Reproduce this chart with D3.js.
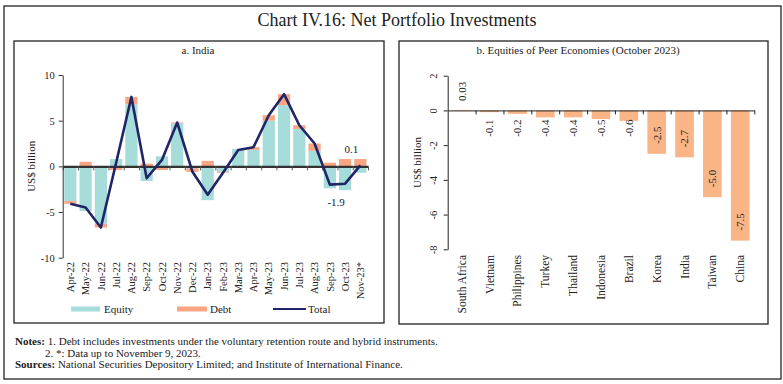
<!DOCTYPE html>
<html>
<head>
<meta charset="utf-8">
<script src="https://cdn.jsdelivr.net/npm/d3@7"></script>
<style>
  body { margin: 0; background: #fff; }
  text { font-family: "Liberation Serif", "DejaVu Serif", serif; fill: #222; }
</style>
</head>
<body>
<script>
//net portfolio investments chart


//data for panel a (US$ billion)
var months = ["Apr-22", "May-22", "Jun-22", "Jul-22", "Aug-22", "Sep-22", "Oct-22", "Nov-22", "Dec-22", "Jan-23",
    "Feb-23", "Mar-23", "Apr-23", "May-23", "Jun-23", "Jul-23", "Aug-23", "Sep-23", "Oct-23", "Nov-23*"];
var equity = [-3.8, -4.9, -6.3, 0.8, 6.8, -1.6, 1.1, 4.7, -0.2, -3.7, -0.6, 1.9, 1.8, 5.0, 6.7, 4.1, 1.7, -2.4, -2.6, -0.7];
var debt = [-0.3, 0.5, -0.4, -0.4, 0.8, 0.3, -0.4, 0.1, -0.4, 0.6, -0.1, -0.1, 0.3, 0.6, 1.2, 0.4, 0.8, 0.4, 0.8, 0.8];
var total = [-4.1, -4.5, -6.7, 0.4, 7.6, -1.3, 0.7, 4.8, -0.6, -3.1, -0.7, 1.8, 2.1, 5.6, 7.9, 4.5, 2.5, -2.0, -1.9, 0.1];
var leftTicks = [-10, -5, 0, 5, 10];

//data for panel b (US$ billion)
var countries = ["South Africa", "Vietnam", "Philippines", "Turkey", "Thailand", "Indonesia", "Brazil", "Korea", "India", "Taiwan", "China"];
var peerEquity = [0.03, -0.1, -0.2, -0.4, -0.4, -0.5, -0.6, -2.5, -2.7, -5.0, -7.5];
var peerLabels = ["0.03", "-0.1", "-0.2", "-0.4", "-0.4", "-0.5", "-0.6", "-2.5", "-2.7", "-5.0", "-7.5"];
var rightTicks = [-8, -6, -4, -2, 0, 2];

var equityColor = "#a6dcd9",
    debtColor = "#f7a583",
    totalColor = "#1f2566",
    peerColor = "#f9b585";

var svg = d3.select("body").append("svg")
    .attr("width", 783)
    .attr("height", 384);

//frames
svg.append("rect").attr("x", 4).attr("y", 6).attr("width", 777).attr("height", 373)
    .attr("fill", "none").attr("stroke", "#222").attr("stroke-width", 1.3);
svg.append("rect").attr("x", 14).attr("y", 41).attr("width", 370).attr("height", 282)
    .attr("fill", "none").attr("stroke", "#222").attr("stroke-width", 1.3);
svg.append("rect").attr("x", 399).attr("y", 41).attr("width", 369).attr("height", 283)
    .attr("fill", "none").attr("stroke", "#222").attr("stroke-width", 1.3);

svg.append("text").attr("x", 397).attr("y", 26).attr("text-anchor", "middle")
    .style("font-size", "18px").text("Chart IV.16: Net Portfolio Investments");
svg.append("text").attr("x", 198).attr("y", 54).attr("text-anchor", "middle")
    .style("font-size", "11px").text("a. India");
svg.append("text").attr("x", 578).attr("y", 54).attr("text-anchor", "middle")
    .style("font-size", "11px").text("b. Equities of Peer Economies (October 2023)");

drawIndia();
drawPeers();
drawNotes();

//plain hyphen minus like the original
function plain(d){ return String(d); }

function drawIndia(){
    var x0 = 62.7, x1 = 368;
    var x = d3.scaleBand().domain(months).range([x0, x1]).paddingInner(0.2).paddingOuter(0.1);
    var y = d3.scaleLinear().domain([-10, 10]).range([257.7, 75]);
    var g = svg.append("g");

    //stack equity and debt, positives up and negatives down
    var rows = months.map(function(m, i){ return {month: m, equity: equity[i], debt: debt[i]}; });
    var series = d3.stack().keys(["equity", "debt"]).offset(d3.stackOffsetDiverging)(rows);
    var colors = {equity: equityColor, debt: debtColor};

    series.forEach(function(s){
        g.append("g").selectAll("rect")
            .data(s)
            .enter()
            .append("rect")
            .attr("x", function(d){ return x(d.data.month); })
            .attr("width", x.bandwidth())
            .attr("y", function(d){ return y(Math.max(d[0], d[1])); })
            .attr("height", function(d){ return Math.abs(y(d[0]) - y(d[1])); })
            .attr("fill", colors[s.key]);
    });

    //zero line with ticks between categories
    var idx = d3.scaleLinear().domain([0, months.length]).range([x0, x1]);
    g.append("g")
        .attr("transform", "translate(0," + y(0) + ")")
        .call(d3.axisBottom(idx).tickValues(d3.range(months.length + 1)).tickFormat("").tickSize(4).tickSizeOuter(0))
        .call(function(a){
            a.select(".domain").attr("stroke", "#333").attr("stroke-width", 2.2);
            a.selectAll(".tick line").attr("stroke", "#555");
        });

    //total line
    var line = d3.line()
        .x(function(d, i){ return x(months[i]) + x.bandwidth() / 2; })
        .y(function(d){ return y(d); });
    g.append("path").datum(total)
        .attr("d", line)
        .attr("fill", "none")
        .attr("stroke", totalColor)
        .attr("stroke-width", 2.6)
        .attr("stroke-linejoin", "round");

    //y axis
    g.append("g")
        .attr("transform", "translate(" + x0 + ",0)")
        .call(d3.axisLeft(y).tickValues(leftTicks).tickSize(4).tickSizeOuter(0).tickPadding(4).tickFormat(plain))
        .call(function(a){
            a.select(".domain").attr("stroke", "#333");
            a.selectAll(".tick line").attr("stroke", "#333");
            a.selectAll("text").style("font-size", "10.5px").style("font-family", "Liberation Serif, serif").attr("fill", "#222");
        });

    g.append("text")
        .attr("transform", "translate(35," + y(0) + ") rotate(-90)")
        .attr("text-anchor", "middle")
        .style("font-size", "11px")
        .text("US$ billion");

    //month labels
    g.append("g").selectAll("text")
        .data(months)
        .enter()
        .append("text")
        .attr("transform", function(d){ return "translate(" + (x(d) + x.bandwidth() / 2) + ",262) rotate(-90)"; })
        .attr("text-anchor", "end")
        .attr("dy", "0.35em")
        .style("font-size", "10.5px")
        .text(function(d){ return d; });

    //data labels for the last two totals
    var n = months.length;
    g.append("text")
        .attr("x", x(months[n - 2]) + x.bandwidth() / 2 - 9)
        .attr("y", y(total[n - 2]) + 22)
        .attr("text-anchor", "middle")
        .style("font-size", "11px")
        .text(total[n - 2].toFixed(1));
    g.append("text")
        .attr("x", x(months[n - 1]) + x.bandwidth() / 2 - 9)
        .attr("y", y(total[n - 1]) - 12)
        .attr("text-anchor", "middle")
        .style("font-size", "11px")
        .text(total[n - 1].toFixed(1));

    //legend
    var lg = g.append("g");
    lg.append("rect").attr("x", 71).attr("y", 306.5).attr("width", 29).attr("height", 5).attr("fill", equityColor);
    lg.append("text").attr("x", 104).attr("y", 312.5).style("font-size", "11px").text("Equity");
    lg.append("rect").attr("x", 177).attr("y", 306.5).attr("width", 30).attr("height", 5).attr("fill", debtColor);
    lg.append("text").attr("x", 210).attr("y", 312.5).style("font-size", "11px").text("Debt");
    lg.append("line").attr("x1", 273).attr("x2", 306).attr("y1", 309).attr("y2", 309)
        .attr("stroke", totalColor).attr("stroke-width", 2);
    lg.append("text").attr("x", 308).attr("y", 312.5).style("font-size", "11px").text("Total");
}

function drawPeers(){
    var x0 = 447.7, x1 = 754.3;
    var x = d3.scaleBand().domain(countries).range([x0, x1]).paddingInner(0.33).paddingOuter(0.17);
    var y = d3.scaleLinear().domain([-8, 2]).range([249.3, 75.7]);
    var g = svg.append("g");

    g.append("g").selectAll("rect")
        .data(peerEquity)
        .enter()
        .append("rect")
        .attr("x", function(d, i){ return x(countries[i]); })
        .attr("width", x.bandwidth())
        .attr("y", function(d){ return y(Math.max(0, d)); })
        .attr("height", function(d){ return Math.abs(y(d) - y(0)); })
        .attr("fill", peerColor);

    //zero line
    var idx = d3.scaleLinear().domain([0, countries.length]).range([x0, x1]);
    g.append("g")
        .attr("transform", "translate(0," + y(0) + ")")
        .call(d3.axisBottom(idx).tickValues(d3.range(1, countries.length + 1)).tickFormat("").tickSize(4).tickSizeOuter(0))
        .call(function(a){
            a.select(".domain").attr("stroke", "#222").attr("stroke-width", 1);
            a.selectAll(".tick line").attr("stroke", "#222");
        });

    //y axis with rotated labels
    g.append("g")
        .attr("transform", "translate(" + x0 + ",0)")
        .call(d3.axisLeft(y).tickValues(rightTicks).tickSize(4).tickSizeOuter(0).tickFormat(plain))
        .call(function(a){
            a.select(".domain").attr("stroke", "#222");
            a.selectAll(".tick line").attr("stroke", "#222");
            a.selectAll("text")
                .attr("x", null).attr("dy", null)
                .attr("transform", "translate(-14,0) rotate(-90)")
                .attr("text-anchor", "middle")
                .attr("dominant-baseline", "central")
                .style("font-size", "10.5px").style("font-family", "Liberation Serif, serif").attr("fill", "#222");
        });

    g.append("text")
        .attr("transform", "translate(421," + y(-3) + ") rotate(-90)")
        .attr("text-anchor", "middle")
        .style("font-size", "11px")
        .text("US$ billion");

    //country labels
    g.append("g").selectAll("text")
        .data(countries)
        .enter()
        .append("text")
        .attr("transform", function(d){ return "translate(" + (x(d) + x.bandwidth() / 2) + ",255) rotate(-90)"; })
        .attr("text-anchor", "end")
        .attr("dy", "0.35em")
        .style("font-size", "11.5px")
        .text(function(d){ return d; });

    //value labels
    g.append("g").selectAll("text")
        .data(peerEquity)
        .enter()
        .append("text")
        .attr("transform", function(d, i){
            var cx = x(countries[i]) + x.bandwidth() / 2, cy;
            if (d >= 0) cy = y(d) - 9;
            else if (d > -1) cy = y(0) + 9;
            else cy = y(d) - 10;
            return "translate(" + cx + "," + cy + ") rotate(-90)";
        })
        .attr("text-anchor", function(d){ return (d >= 0 || d <= -1) ? "start" : "end"; })
        .attr("dy", "0.35em")
        .style("font-size", "11px")
        .text(function(d, i){ return peerLabels[i]; });
}

function drawNotes(){
    var notes = svg.append("g").style("font-size", "11px");
    var t1 = notes.append("text").attr("x", 15).attr("y", 345);
    t1.append("tspan").attr("font-weight", "bold").text("Notes:");
    t1.append("tspan").text(" 1. Debt includes investments under the voluntary retention route and hybrid instruments.");
    notes.append("text").attr("x", 45).attr("y", 356.5).text("2. *: Data up to November 9, 2023.");
    var t3 = notes.append("text").attr("x", 15).attr("y", 368);
    t3.append("tspan").attr("font-weight", "bold").text("Sources:");
    t3.append("tspan").text(" National Securities Depository Limited; and Institute of International Finance.");
}
</script>
</body>
</html>
